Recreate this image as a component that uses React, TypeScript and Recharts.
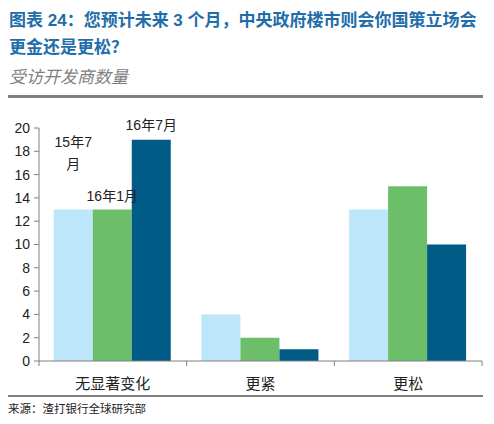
import React from 'react';
import { BarChart, Bar, XAxis, YAxis, LabelList } from 'recharts';

const categories = ['无显著变化', '更紧', '更松'];
const seriesNames = ['15年7月', '16年1月', '16年7月'];
const jul15 = [13, 4, 13];
const jan16 = [13, 2, 15];
const jul16 = [19, 1, 10];
const yTicks = [0, 2, 4, 6, 8, 10, 12, 14, 16, 18, 20];

const COLORS = ['#BEE6FA', '#6CBE69', '#005B87'];
const AXIS = '#808080';
const FONT = '"Liberation Sans", Arial, "Noto Sans CJK SC", sans-serif';

const CHART_W = 494;
const CHART_H = 290;
const MARGIN = { top: 18, right: 12, bottom: 9, left: 0 };
const Y_W = 39;
const BAND = (CHART_W - MARGIN.left - MARGIN.right - Y_W) / categories.length;

const data = categories.map((c, i) => ({ name: c, a: jul15[i], b: jan16[i], c: jul16[i] }));

// series name labels sit over the first group only
const nameLabel = (name: string, lines: string[], dy: number) => (props: any) => {
  if (props.index !== 0) return null;
  const cx = props.x + props.width / 2;
  return (
    <text key={name} x={cx} y={props.y + dy} textAnchor="middle" fontSize={14} fill="#222" fontFamily={FONT}>
      {lines.map((l, k) => (
        <tspan key={k} x={cx} dy={k === 0 ? 0 : 22}>{l}</tspan>
      ))}
    </text>
  );
};

const XTick = (props: any) => {
  const { x, y, payload, index } = props;
  const axisY = y - 8;
  return (
    <g>
      <line x1={x - BAND / 2} x2={x - BAND / 2} y1={axisY} y2={axisY + 5} stroke={AXIS} />
      {index === categories.length - 1 && (
        <line x1={x + BAND / 2} x2={x + BAND / 2} y1={axisY} y2={axisY + 5} stroke={AXIS} />
      )}
      <text x={x} y={axisY + 28} textAnchor="middle" fontSize={15} fill="#222" fontFamily={FONT}>
        {payload.value}
      </text>
    </g>
  );
};

export default function App() {
  return (
    <div style={{ position: 'absolute', left: 0, top: 0, width: 494, height: 424, background: '#fff', fontFamily: FONT }}>
      <div style={{ position: 'absolute', left: 9, top: 7, width: 482, color: '#1F6EAA', fontWeight: 'bold', fontSize: 17, lineHeight: '27px' }}>
        图表 24：您预计未来 3 个月，中央政府楼市则会你国策立场会<br />更金还是更松？
      </div>
      <div style={{ position: 'absolute', left: 9, top: 66, color: '#7F7F7F', fontStyle: 'italic', fontSize: 17, lineHeight: '24px' }}>
        受访开发商数量
      </div>
      <div style={{ position: 'absolute', left: 8, top: 95, width: 475, height: 3, background: '#808080' }} />
      <div style={{ position: 'absolute', left: 0, top: 110 }}>
        <BarChart width={CHART_W} height={CHART_H} data={data} margin={MARGIN} barCategoryGap="10%" barGap={0}>
          <XAxis dataKey="name" stroke={AXIS} tickLine={false} tick={<XTick />} interval={0} />
          <YAxis
            width={Y_W}
            domain={[0, 20]}
            ticks={yTicks}
            interval={0}
            stroke={AXIS}
            tickSize={5}
            tickMargin={4}
            tick={{ fill: '#222', fontSize: 14, fontFamily: FONT }}
          />
          <Bar dataKey="a" name={seriesNames[0]} fill={COLORS[0]} isAnimationActive={false}>
            <LabelList dataKey="a" content={nameLabel(seriesNames[0], ['15年7', '月'], -63)} />
          </Bar>
          <Bar dataKey="b" name={seriesNames[1]} fill={COLORS[1]} isAnimationActive={false}>
            <LabelList dataKey="b" content={nameLabel(seriesNames[1], [seriesNames[1]], -9)} />
          </Bar>
          <Bar dataKey="c" name={seriesNames[2]} fill={COLORS[2]} isAnimationActive={false}>
            <LabelList dataKey="c" content={nameLabel(seriesNames[2], [seriesNames[2]], -10)} />
          </Bar>
        </BarChart>
      </div>
      <div style={{ position: 'absolute', left: 8, top: 395, width: 475, height: 2, background: '#808080' }} />
      <div style={{ position: 'absolute', left: 8, top: 401, fontSize: 11.5, color: '#222', lineHeight: '16px' }}>
        来源：渣打银行全球研究部
      </div>
    </div>
  );
}
